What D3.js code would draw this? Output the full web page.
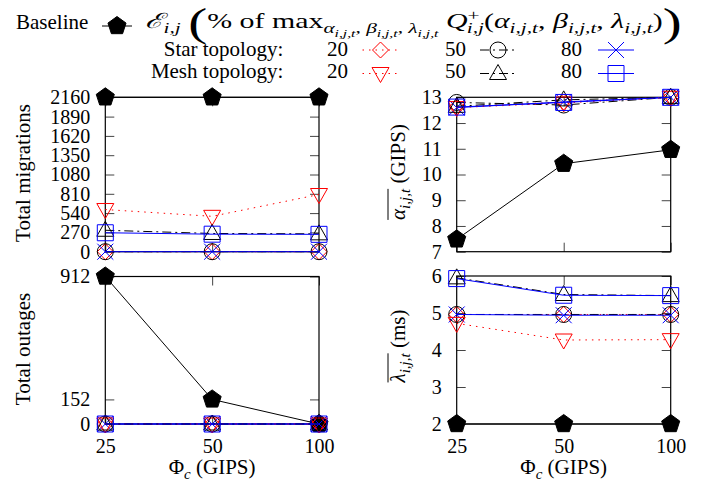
<!DOCTYPE html>
<html>
<head>
<meta charset="utf-8">
<script src="https://cdn.jsdelivr.net/npm/d3@7"></script>
<style>
    body { margin: 0; background: #fff; }
    svg { display: block; }
    text { font-family: "Liberation Serif", "Times New Roman", serif; }
</style>
</head>
<body>
<svg id="chart" width="712" height="487"></svg>
<script>
"use strict";

// x categories (Phi_c, GIPS)
const phiC = ["25", "50", "100"];

// y tick values per panel
const migrationTicks = [0, 270, 540, 810, 1080, 1350, 1620, 1890, 2160];
const alphaTicks = [7, 8, 9, 10, 11, 12, 13];
const outageTicks = [0, 152, 912];
const latencyTicks = [2, 3, 4, 5, 6];

// series values, one array per series and panel
const migrations = {
    baseline: [2160, 2160, 2160],
    star20: [0, 0, 0],
    star50: [0, 0, 0],
    star80: [0, 0, 0],
    mesh20: [590, 495, 800],
    mesh50: [300, 255, 250],
    mesh80: [265, 245, 243]
};
const alpha = {
    baseline: [7.48, 10.42, 10.96],
    star20: [12.62, 12.82, 13.0],
    star50: [12.8, 12.7, 13.0],
    star80: [12.6, 12.82, 13.0],
    mesh20: [12.6, 12.78, 13.0],
    mesh50: [12.65, 12.9, 13.0],
    mesh80: [12.62, 12.8, 13.0]
};
const outages = {
    baseline: [912, 152, 0],
    star20: [0, 0, 0],
    star50: [0, 0, 0],
    star80: [0, 0, 0],
    mesh20: [0, 0, 0],
    mesh50: [0, 0, 0],
    mesh80: [0, 0, 0]
};
const latency = {
    baseline: [2, 2, 2],
    star20: [4.96, 4.96, 4.96],
    star50: [4.96, 4.96, 4.96],
    star80: [4.96, 4.94, 4.94],
    mesh20: [4.72, 4.27, 4.28],
    mesh50: [5.95, 5.5, 5.47],
    mesh80: [5.93, 5.48, 5.47]
};

const seriesKeys = ["baseline", "star20", "star50", "star80", "mesh20", "mesh50", "mesh80"];

const styles = {
    baseline: {color: "#000", dash: null, marker: "pentagon", fill: "#000"},
    star20: {color: "#f00", dash: "1.5,5", marker: "diamond"},
    star50: {color: "#000", dash: "9,4,2,4", marker: "circle"},
    star80: {color: "#00f", dash: null, marker: "cross"},
    mesh20: {color: "#f00", dash: "1.5,5", marker: "triDown"},
    mesh50: {color: "#000", dash: "9,4,2,4", marker: "triUp"},
    mesh80: {color: "#00f", dash: null, marker: "square"}
};

const svg = d3.select("#chart");
const FONT = 21;
const TICK_FONT = 20;
const SERIF = "'Liberation Serif', 'Times New Roman', serif";

function markerPath(type) {
    const r = 8;
    switch (type) {
        case "pentagon": {
            const pts = d3.range(5).map(k => {
                const a = -Math.PI / 2 + k * 2 * Math.PI / 5;
                return [9.5 * Math.cos(a), 9.5 * Math.sin(a)];
            });
            return "M" + pts.join("L") + "Z";
        }
        case "diamond": return `M0,${-r}L${r},0L0,${r}L${-r},0Z`;
        case "circle": return d3.symbol(d3.symbolCircle, Math.PI * r * r)();
        case "cross": return `M${-r},${-r}L${r},${r}M${-r},${r}L${r},${-r}`;
        case "triDown": return "M-8.5,-6L8.5,-6L0,9Z";
        case "triUp": return "M-8.5,6L8.5,6L0,-9Z";
        case "square": return `M${-r},${-r}H${r}V${r}H${-r}Z`;
    }
}

function drawMarker(g, key, cx, cy) {
    const s = styles[key];
    g.append("path")
        .attr("d", markerPath(s.marker))
        .attr("transform", `translate(${cx},${cy})`)
        .attr("fill", s.fill || "none")
        .attr("stroke", s.color)
        .attr("stroke-width", 1);
}

// math-like text: parts are [text, level, italic, dx]; level 0 base, 1 sub, 2 subsub, -1 sup
const levelSize = {"0": FONT, "1": 15, "2": 11, "-1": 15};
const levelShift = {"0": 0, "1": 5, "2": 9, "-1": -8};

function addMath(text, parts, start) {
    let prev = start || 0;
    parts.forEach(([t, level, italic, dx]) => {
        const ts = text.append("tspan")
            .attr("font-size", levelSize[level])
            .attr("dy", levelShift[level] - prev)
            .attr("font-style", italic ? "italic" : "normal")
            .text(t);
        if (dx) ts.attr("dx", dx);
        prev = levelShift[level];
    });
    return prev;
}

function cleanAxis(sel) {
    sel.attr("font-family", SERIF).attr("font-size", TICK_FONT);
    sel.select(".domain").remove();
    sel.selectAll(".tick line").attr("stroke", "#444");
}

function drawPanel(p) {
    const x = d3.scalePoint().domain(phiC).range([p.left, p.right]);
    const y = d3.scaleLinear().domain(p.domain).range([p.bottom, p.top]);
    const g = svg.append("g").attr("font-family", SERIF);
    const tickLen = 9;

    // inward ticks on all four sides
    g.append("g").attr("transform", `translate(${p.left},0)`)
        .call(d3.axisRight(y).tickValues(p.ticks).tickSize(tickLen).tickFormat(""))
        .call(cleanAxis);
    g.append("g").attr("transform", `translate(${p.right},0)`)
        .call(d3.axisLeft(y).tickValues(p.ticks).tickSize(tickLen).tickFormat(""))
        .call(cleanAxis);
    g.append("g").attr("transform", `translate(0,${p.top})`)
        .call(d3.axisBottom(x).tickSize(tickLen).tickFormat(""))
        .call(cleanAxis);
    g.append("g").attr("transform", `translate(0,${p.bottom})`)
        .call(d3.axisTop(x).tickSize(tickLen).tickFormat(""))
        .call(cleanAxis);

    // y tick labels
    g.append("g").attr("transform", `translate(${p.left},0)`)
        .call(d3.axisLeft(y).tickValues(p.ticks).tickSize(0).tickPadding(15).tickFormat(d3.format("d")))
        .call(cleanAxis);

    if (p.xLabels) {
        g.append("g").attr("transform", `translate(0,${p.bottom})`)
            .call(d3.axisBottom(x).tickSize(0).tickPadding(15))
            .call(cleanAxis);
        const xt = g.append("text")
            .attr("x", (p.left + p.right) / 2)
            .attr("y", 474)
            .attr("font-size", FONT)
            .attr("text-anchor", "middle");
        addMath(xt, [["\u03A6", 0], ["c", 1, true], [" (GIPS)", 0]]);
    }

    g.append("rect")
        .attr("x", p.left).attr("y", p.top)
        .attr("width", p.right - p.left).attr("height", p.bottom - p.top)
        .attr("fill", "none").attr("stroke", "#000").attr("stroke-width", 1.2);

    const line = d3.line()
        .x((d, i) => x(phiC[i]))
        .y(d => y(d));

    seriesKeys.forEach(key => {
        const s = styles[key];
        const values = p.data[key];
        g.append("path")
            .datum(values)
            .attr("d", line)
            .attr("fill", "none")
            .attr("stroke", s.color)
            .attr("stroke-width", 1)
            .attr("stroke-dasharray", s.dash);
        values.forEach((v, i) => drawMarker(g, key, x(phiC[i]), y(v)));
    });

    // y axis title
    const lg = g.append("g")
        .attr("transform", `translate(${p.labelX},${p.labelY}) rotate(-90)`);
    const t = lg.append("text").attr("font-size", FONT);
    addMath(t, p.label);
    const w = t.node().getComputedTextLength();
    t.attr("x", -w / 2);
    if (p.overChars) {
        const ow = t.node().getSubStringLength(0, p.overChars);
        lg.append("line")
            .attr("x1", -w / 2).attr("x2", -w / 2 + ow)
            .attr("y1", -17).attr("y2", -17)
            .attr("stroke", "#000").attr("stroke-width", 1);
    }
}

drawPanel({
    data: migrations, ticks: migrationTicks, domain: [0, 2160],
    left: 105.3, right: 319, top: 97.3, bottom: 251.7,
    label: [["Total migrations", 0]], labelX: 30, labelY: 173
});
drawPanel({
    data: alpha, ticks: alphaTicks, domain: [7, 13],
    left: 456.7, right: 670.7, top: 97.3, bottom: 251.7,
    label: [["\u03B1", 0, true], ["i,j,t", 1, true], [" (GIPS)", 0]],
    overChars: 6, labelX: 405, labelY: 172
});
drawPanel({
    data: outages, ticks: outageTicks, domain: [0, 912],
    left: 105.3, right: 319, top: 276.5, bottom: 424,
    label: [["Total outages", 0]], labelX: 30, labelY: 349, xLabels: true
});
drawPanel({
    data: latency, ticks: latencyTicks, domain: [2, 6],
    left: 456.7, right: 670.7, top: 276, bottom: 424,
    label: [["\u03BB", 0, true], ["i,j,t", 1, true], [" (ms)", 0]],
    overChars: 6, labelX: 405, labelY: 346, xLabels: true
});

// ---- legend ----
const legend = svg.append("g").attr("font-size", FONT).attr("font-family", SERIF);

legend.append("text").attr("x", 16).attr("y", 28.5).text("Baseline");
legend.append("line").attr("x1", 102).attr("x2", 132).attr("y1", 26).attr("y2", 26)
    .attr("stroke", "#000");
drawMarker(legend, "baseline", 117, 26);

const formula = legend.append("text").attr("x", 0).attr("y", 28.5);
const subList = [
    ["\u03B1", 1, true], ["i,j,t", 2, true], [", ", 1], ["\u03B2", 1, true], ["i,j,t", 2, true],
    [", ", 1], ["\u03BB", 1, true], ["i,j,t", 2, true]
];
const argList = [
    ["(", 0], ["\u03B1", 0, true], ["i,j,t", 1, true], [", ", 0], ["\u03B2", 0, true], ["i,j,t", 1, true],
    [", ", 0], ["\u03BB", 0, true], ["i,j,t", 1, true], [")", 0]
];
let lv = addMath(formula, [["\u2130", 0, true], ["i,j", 1, true], [" ", 0]]);
formula.append("tspan").attr("font-size", 40).attr("dy", 7).text("(");
lv = addMath(formula, [["% of max", 0]].concat(subList,
    [[" ", 0], ["Q", 0, true], ["+", -1], ["i,j", 1, true, -9]], argList), 7);
formula.append("tspan").attr("font-size", 40)
    .attr("dy", 7 - lv).text(")");
const fw = formula.node().getBBox().width;
formula.attr("transform", `translate(145,0) scale(${(682 - 145) / fw},1)`);

const rows = [
    {name: "Star topology:", y: 55.5, my: 50, keys: ["star20", "star50", "star80"]},
    {name: "Mesh topology:", y: 77.5, my: 73.5, keys: ["mesh20", "mesh50", "mesh80"]}
];
const levels = ["20", "50", "80"];
const levelRight = [348, 466, 582];
const sampleCenter = [380.5, 498, 616];

rows.forEach(row => {
    legend.append("text").attr("x", 283.3).attr("y", row.y)
        .attr("text-anchor", "end").text(row.name);
    row.keys.forEach((key, i) => {
        const s = styles[key];
        legend.append("text").attr("x", levelRight[i]).attr("y", row.y)
            .attr("text-anchor", "end").text(levels[i]);
        legend.append("line")
            .attr("x1", sampleCenter[i] - 18).attr("x2", sampleCenter[i] + 18)
            .attr("y1", row.my).attr("y2", row.my)
            .attr("stroke", s.color).attr("stroke-dasharray", s.dash);
        drawMarker(legend, key, sampleCenter[i], row.my);
    });
});
</script>
</body>
</html>
